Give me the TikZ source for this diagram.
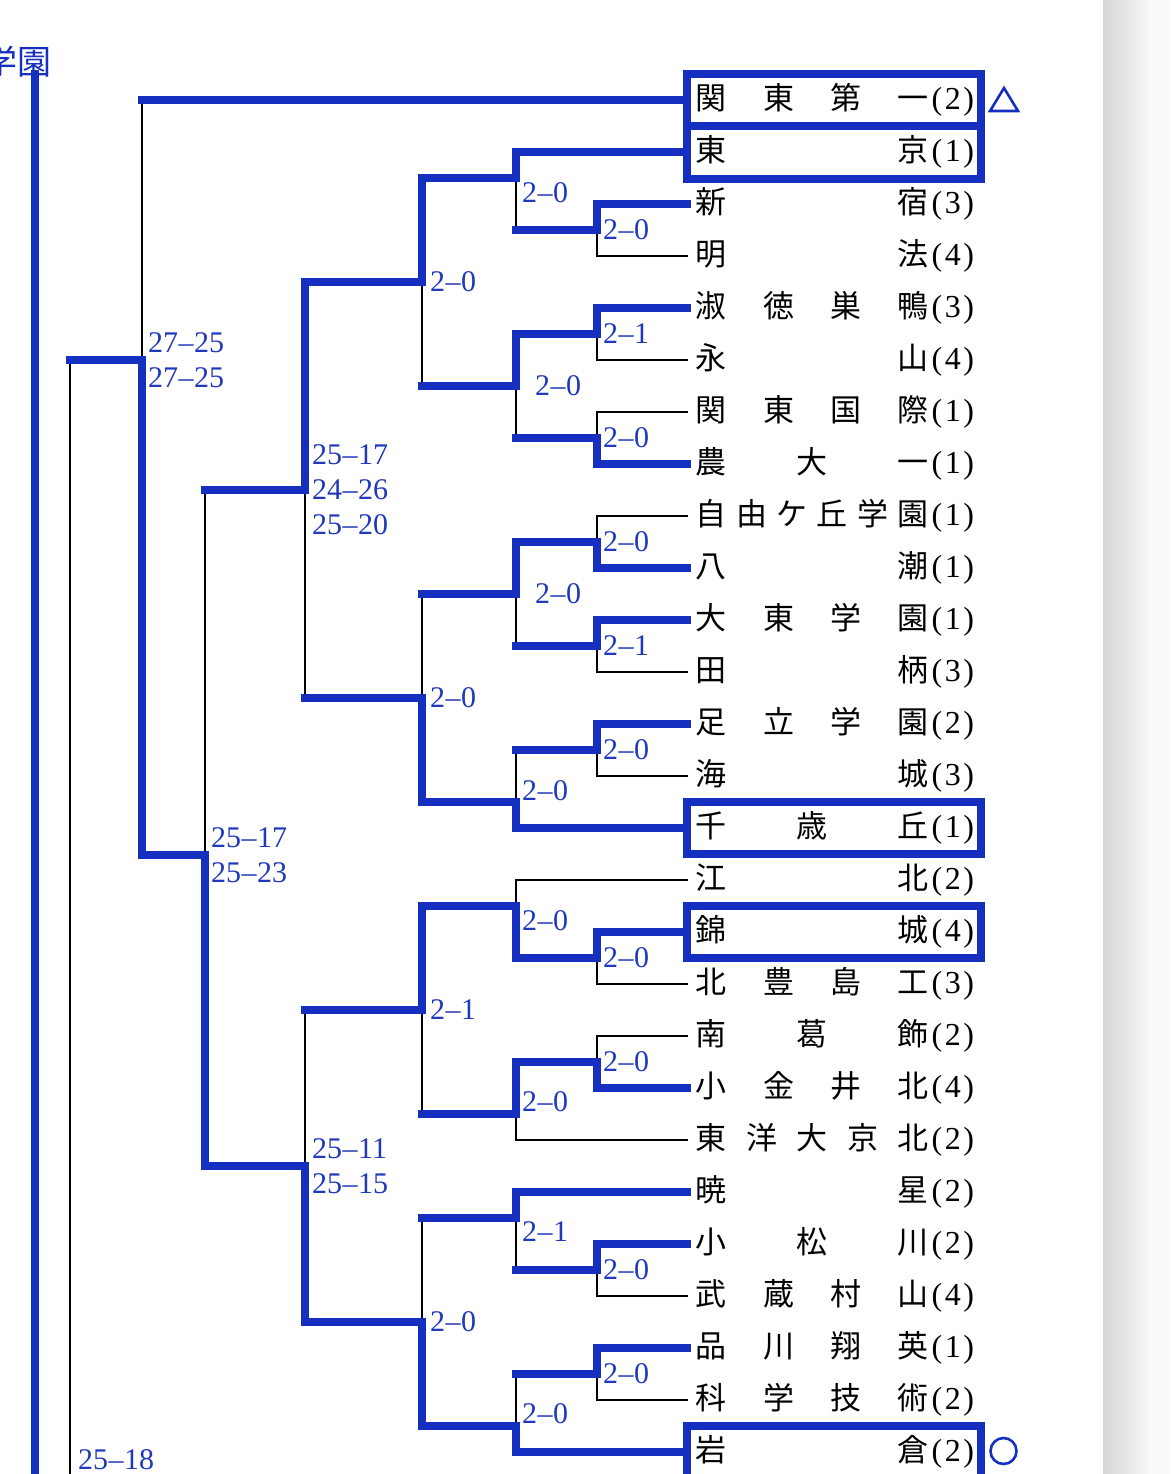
\documentclass[tikz,border=0pt]{standalone}
\usepackage{fontspec}
\newfontfamily\jp{Noto Sans CJK JP}
\newfontfamily\scorefnt{Liberation Serif}
\definecolor{bblue}{RGB}{21,48,192}
\definecolor{tblue}{RGB}{32,56,186}
\newcommand\sd{\kern0.5pt\textendash\kern0.5pt}
\tikzset{
  win/.style={draw=bblue, line width=8pt, line cap=rect},
  lose/.style={draw=black, line width=2.5pt, line cap=rect},
  score/.style={text=tblue, font=\scorefnt\fontsize{30}{35}\selectfont, inner sep=0pt, anchor=west, align=left},
  team/.style={inner sep=0pt, anchor=west, font=\fontsize{31}{31}\selectfont},
  tbox/.style={draw=bblue, line width=8pt},
  markline/.style={draw=bblue, line width=2.6pt},
}
% match: xv, ywin, yout, ylose
\newcommand\bmatch[4]{%
  \draw[lose] (#1,#3) -- (#1,#4);
  \draw[win] (#1,#2) -- (#1,#3);}
\newcommand\tname[4]{%
  \node[team] (#1) at (695.5,#2) {{\jp\makebox[233pt][s]{#3}}\kern3pt{\scorefnt\fontsize{32}{32}\selectfont(\kern2.5pt#4\kern2.5pt)}};}
\begin{document}
\begin{tikzpicture}[x=1pt,y=-1pt]
\useasboundingbox (0,0) rectangle (1170,1474);
% page edge shade
\shade[left color=black!16, right color=black!3] (1103,0) rectangle (1150,1474);
\fill[black!2] (1150,0) rectangle (1170,1474);

% ---- far left
\node[text=bblue, inner sep=0pt, anchor=east, font=\jp\fontsize{34}{34}\selectfont] (champ) at (52,62) {学園};
\draw[lose] (70,360) -- (70,1480);
\draw[win] (35,74) -- (35,1480);
\node[score] (s0) at (78,1460) {25\sd18};

% ---- black (losing) team lines
\foreach \y in {256,360,412,516,672,776,984,1036,1296,1400} \draw[lose] (597,\y) -- (687,\y);
\draw[lose] (516,880) -- (687,880);
\draw[lose] (516,1140) -- (687,1140);

% ---- vertical matches (level 1, x=597)
\bmatch{597}{204}{230}{256}
\bmatch{597}{308}{334}{360}
\bmatch{597}{464}{438}{412}
\bmatch{597}{568}{542}{516}
\bmatch{597}{620}{646}{672}
\bmatch{597}{724}{750}{776}
\bmatch{597}{932}{958}{984}
\bmatch{597}{1088}{1062}{1036}
\bmatch{597}{1244}{1270}{1296}
\bmatch{597}{1348}{1374}{1400}
% level 2, x=516
\bmatch{516}{152}{178}{230}
\bmatch{516}{334}{386}{438}
\bmatch{516}{542}{594}{646}
\bmatch{516}{828}{802}{750}
\bmatch{516}{958}{906}{880}
\bmatch{516}{1062}{1114}{1140}
\bmatch{516}{1192}{1218}{1270}
\bmatch{516}{1452}{1426}{1374}
% level 3, x=422
\bmatch{422}{178}{282}{386}
\bmatch{422}{802}{698}{594}
\bmatch{422}{906}{1010}{1114}
\bmatch{422}{1426}{1322}{1218}
% level 4, x=305
\bmatch{305}{282}{490}{698}
\bmatch{305}{1322}{1166}{1010}
% level 5, x=205
\bmatch{205}{1166}{855}{490}
% level 6, x=142
\bmatch{142}{855}{360}{100}

% ---- blue team lines
\foreach \y in {204,308,464,568,620,724,932,1088,1244,1348} \draw[win] (597,\y) -- (687,\y);
\foreach \y in {152,828,1192,1452} \draw[win] (516,\y) -- (687,\y);
\draw[win] (142,100) -- (687,100);

% ---- output lines
\foreach \y in {230,334,438,542,646,750,958,1062,1270,1374} \draw[win] (516,\y) -- (597,\y);
\foreach \y in {178,386,594,802,906,1114,1218,1426} \draw[win] (422,\y) -- (516,\y);
\foreach \y in {282,698,1010,1322} \draw[win] (305,\y) -- (422,\y);
\foreach \y in {490,1166} \draw[win] (205,\y) -- (305,\y);
\draw[win] (142,855) -- (205,855);
\draw[win] (70,360) -- (142,360);

% ---- boxes
\draw[tbox] (687,74) rectangle (981,179);
\draw[tbox] (687,126) -- (981,126);
\draw[tbox] (687,802) rectangle (981,854);
\draw[tbox] (687,906) rectangle (981,958);
\draw[tbox] (687,1426) rectangle (981,1484);

% ---- marks
\draw[markline, line join=miter] (990,111) -- (1018,111) -- (1004,88) -- cycle;
\draw[markline] (1003.5,1451) circle (13);

% ---- scores level 1
\node[score] (a1) at (603,230) {2\sd0};
\node[score] (a2) at (603,334) {2\sd1};
\node[score] (a3) at (603,438) {2\sd0};
\node[score] (a4) at (603,542) {2\sd0};
\node[score] (a5) at (603,646) {2\sd1};
\node[score] (a6) at (603,750) {2\sd0};
\node[score] (a7) at (603,958) {2\sd0};
\node[score] (a8) at (603,1062) {2\sd0};
\node[score] (a9) at (603,1270) {2\sd0};
\node[score] (a10) at (603,1374) {2\sd0};
% level 2
\node[score] (b1) at (522,193) {2\sd0};
\node[score] (b2) at (535,386) {2\sd0};
\node[score] (b3) at (535,594) {2\sd0};
\node[score] (b4) at (522,791) {2\sd0};
\node[score] (b5) at (522,921) {2\sd0};
\node[score] (b6) at (522,1102) {2\sd0};
\node[score] (b7) at (522,1232) {2\sd1};
\node[score] (b8) at (522,1414) {2\sd0};
% level 3
\node[score] (c1) at (430,282) {2\sd0};
\node[score] (c2) at (430,698) {2\sd0};
\node[score] (c3) at (430,1010) {2\sd1};
\node[score] (c4) at (430,1322) {2\sd0};
% level 4-6
\node[score] (d1) at (312,490) {25\sd17\\24\sd26\\25\sd20};
\node[score] (d2) at (312,1166) {25\sd11\\25\sd15};
\node[score] (e1) at (211,855) {25\sd17\\25\sd23};
\node[score] (f1) at (148,360) {27\sd25\\27\sd25};

% ---- teams
\tname{t1}{100}{関\hfill 東\hfill 第\hfill 一}{2}
\tname{t2}{152}{東\hfill 京}{1}
\tname{t3}{204}{新\hfill 宿}{3}
\tname{t4}{256}{明\hfill 法}{4}
\tname{t5}{308}{淑\hfill 徳\hfill 巣\hfill 鴨}{3}
\tname{t6}{360}{永\hfill 山}{4}
\tname{t7}{412}{関\hfill 東\hfill 国\hfill 際}{1}
\tname{t8}{464}{農\hfill 大\hfill 一}{1}
\tname{t9}{516}{自\hfill 由\hfill ケ\hfill 丘\hfill 学\hfill 園}{1}
\tname{t10}{568}{八\hfill 潮}{1}
\tname{t11}{620}{大\hfill 東\hfill 学\hfill 園}{1}
\tname{t12}{672}{田\hfill 柄}{3}
\tname{t13}{724}{足\hfill 立\hfill 学\hfill 園}{2}
\tname{t14}{776}{海\hfill 城}{3}
\tname{t15}{828}{千\hfill 歳\hfill 丘}{1}
\tname{t16}{880}{江\hfill 北}{2}
\tname{t17}{932}{錦\hfill 城}{4}
\tname{t18}{984}{北\hfill 豊\hfill 島\hfill 工}{3}
\tname{t19}{1036}{南\hfill 葛\hfill 飾}{2}
\tname{t20}{1088}{小\hfill 金\hfill 井\hfill 北}{4}
\tname{t21}{1140}{東\hfill 洋\hfill 大\hfill 京\hfill 北}{2}
\tname{t22}{1192}{暁\hfill 星}{2}
\tname{t23}{1244}{小\hfill 松\hfill 川}{2}
\tname{t24}{1296}{武\hfill 蔵\hfill 村\hfill 山}{4}
\tname{t25}{1348}{品\hfill 川\hfill 翔\hfill 英}{1}
\tname{t26}{1400}{科\hfill 学\hfill 技\hfill 術}{2}
\tname{t27}{1452}{岩\hfill 倉}{2}
\end{tikzpicture}
\end{document}
